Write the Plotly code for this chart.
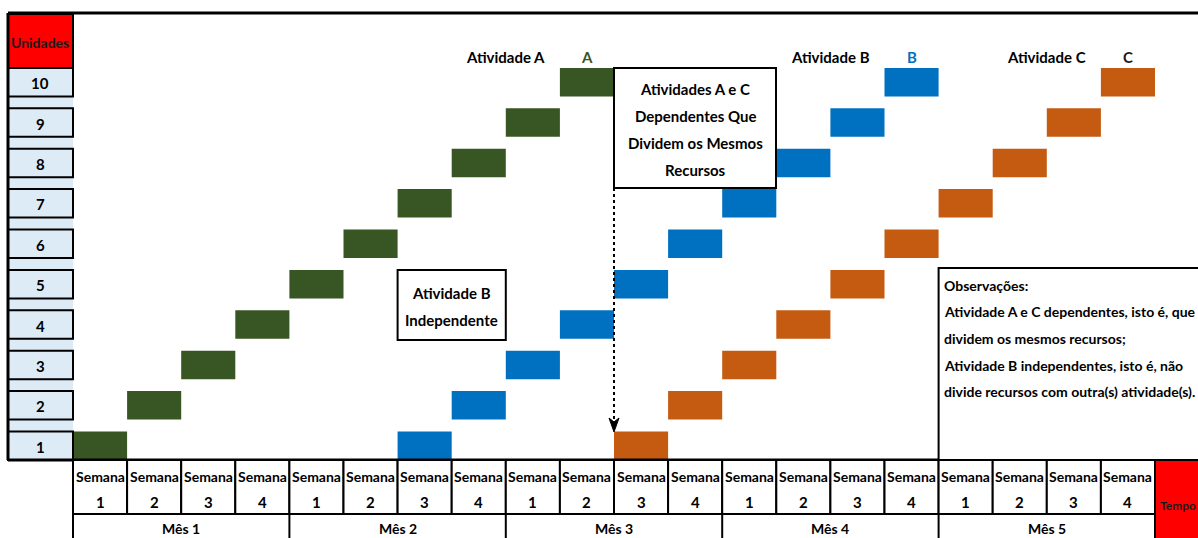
import plotly.graph_objects as go

# ---- data ----
units = [1, 2, 3, 4, 5, 6, 7, 8, 9, 10]
start_week_A = [1, 2, 3, 4, 5, 6, 7, 8, 9, 10]
start_week_B = [7, 8, 9, 10, 11, 12, 13, 14, 15, 16]
start_week_C = [11, 12, 13, 14, 15, 16, 17, 18, 19, 20]
activity_names = ["A", "B", "C"]
activity_colors = ["#375623", "#0070C0", "#C55A11"]
week_labels = ["1", "2", "3", "4"]
month_labels = ["Mês 1", "Mês 2", "Mês 3", "Mês 4", "Mês 5"]

W, H = 1198, 538
X0, WEEK = 73, 54.1        # left edge of week 1, width of a week column (px)
Y0, ROW = 460, 40.4        # baseline of unit 1, row pitch (px)
BAR_H = 0.705              # bar thickness in row units

FONT = "Lato, Roboto, sans-serif"


def px(x, y):
    """pixel position -> paper coordinates"""
    return x / W, 1 - y / H


def xw(week_edge):
    return X0 + WEEK * week_edge


def yr(row_value):
    return Y0 - ROW * row_value


fig = go.Figure()

for name, color, starts in zip(activity_names, activity_colors,
                               [start_week_A, start_week_B, start_week_C]):
    fig.add_trace(go.Bar(
        orientation="h",
        y=[u - 1 + BAR_H / 2 for u in units],
        x=[1] * len(units),
        base=[s - 1 for s in starts],
        width=BAR_H,
        marker=dict(color=color, line=dict(width=0)),
        name="Atividade " + name,
        showlegend=False,
        hoverinfo="skip",
    ))

shapes = []
annotations = []


def rect_px(x0, y0, x1, y1, fill="white", lw=2, color="black", layer="above"):
    a = px(x0, y0)
    b = px(x1, y1)
    shapes.append(dict(type="rect", xref="paper", yref="paper",
                       x0=a[0], y0=a[1], x1=b[0], y1=b[1],
                       fillcolor=fill, layer=layer,
                       line=dict(color=color, width=lw)))


def line_px(x0, y0, x1, y1, lw=2, color="black", dash="solid"):
    a = px(x0, y0)
    b = px(x1, y1)
    shapes.append(dict(type="line", xref="paper", yref="paper",
                       x0=a[0], y0=a[1], x1=b[0], y1=b[1],
                       layer="above", line=dict(color=color, width=lw, dash=dash)))


def text_px(x, y, text, size=14, color="black", xanchor="center", align="center"):
    p = px(x, y)
    annotations.append(dict(xref="paper", yref="paper", x=p[0], y=p[1],
                            text=text, showarrow=False, xanchor=xanchor,
                            yanchor="middle", align=align,
                            font=dict(family=FONT, size=size, color=color)))


# unit label column
rect_px(8, 68, 73, 460, fill="#DDEBF7", lw=0, layer="below")
rect_px(8, 14, 73, 68, fill="#FF0000", lw=2)
text_px(40.5, 42, "<b>Unidades</b>", size=14, color="#1a1a1a")
for u in units:
    top = yr(u - 1 + BAR_H)
    bot = yr(u - 1)
    rect_px(8, top, 73, bot, fill="#DDEBF7", lw=2)
    text_px(40.5, (top + bot) / 2 + 1, f"<b>{u}</b>", size=15)

# frame lines
line_px(8, 13, W, 13, lw=3)
line_px(8, 13, 8, 460, lw=3)
line_px(8, 460, xw(20), 460, lw=3)

# week / month header
for m, mlabel in enumerate(month_labels):
    for k, wlabel in enumerate(week_labels):
        i = m * 4 + k
        rect_px(xw(i), 460, xw(i + 1), 514, fill="white", lw=2)
        cx = (xw(i) + xw(i + 1)) / 2
        text_px(cx, 476, "<b>Semana</b>", size=14)
        text_px(cx, 502, f"<b>{wlabel}</b>", size=15)
    text_px((xw(m * 4) + xw(m * 4 + 4)) / 2, 528, f"<b>{mlabel}</b>", size=14)
    line_px(xw(m * 4), 514, xw(m * 4), H, lw=2)
line_px(xw(20), 514, xw(20), H, lw=2)
line_px(xw(0), 514, xw(20), 514, lw=2)

# time label
rect_px(xw(20), 460, W + 5, H + 5, fill="#FF0000", lw=2)
text_px((xw(20) + W) / 2 + 1, 505, "<b>Tempo</b>", size=12, color="#1a1a1a")

# activity labels
for name, color, starts in zip(activity_names, activity_colors,
                               [start_week_A, start_week_B, start_week_C]):
    last = starts[-1]
    cx = (xw(last - 1) + xw(last)) / 2
    text_px(cx, 57, f"<b>{name}</b>", size=15,
            color=color if name != "C" else "#1a1a1a")
    text_px(cx - 81, 57, f"<b>Atividade {name}</b>", size=15)

# dependency note box
rect_px(xw(10), 68, 776, 188, fill="white", lw=2)
for j, t in enumerate(["Atividades A e C", "Dependentes Que",
                       "Dividem os Mesmos", "Recursos"]):
    text_px(695, 89 + j * 27, f"<b>{t}</b>", size=15)

# dotted arrow to the start of C
line_px(xw(10), 68, xw(10), 424, lw=2, dash="dot")
a = px(xw(10), 432)
b = px(xw(10) - 5, 418)
c = px(xw(10) + 5, 418)
d = px(xw(10), 422)
shapes.append(dict(type="path", xref="paper", yref="paper", layer="above",
                   path=f"M {a[0]} {a[1]} L {b[0]} {b[1]} L {d[0]} {d[1]} L {c[0]} {c[1]} Z",
                   fillcolor="black", line=dict(color="black", width=1)))

# independent note box
rect_px(xw(6), 270, xw(8), 340, fill="white", lw=2)
text_px((xw(6) + xw(8)) / 2, 293, "<b>Atividade B</b>", size=15)
text_px((xw(6) + xw(8)) / 2, 320, "<b>Independente</b>", size=15)

# observations box
rect_px(xw(16), 268, W + 5, 460, fill="white", lw=2)
obs = ["Observações:",
       "Atividade A e C dependentes, isto é, que",
       "dividem os mesmos recursos;",
       "Atividade B independentes, isto é, não",
       "divide recursos com outra(s) atividade(s)."]
for j, t in enumerate(obs):
    text_px(942, 285 + j * 26.7, f"<b>{t}</b>", size=14, xanchor="left", align="left")

fig.update_layout(
    width=W, height=H,
    margin=dict(l=0, r=0, t=0, b=0),
    paper_bgcolor="white", plot_bgcolor="white",
    barmode="overlay",
    xaxis=dict(range=[-X0 / WEEK, (W - X0) / WEEK], visible=False, fixedrange=True),
    yaxis=dict(range=[-(H - Y0) / ROW, Y0 / ROW], visible=False, fixedrange=True),
    shapes=shapes,
    annotations=annotations,
)

fig.write_html("out.html")
